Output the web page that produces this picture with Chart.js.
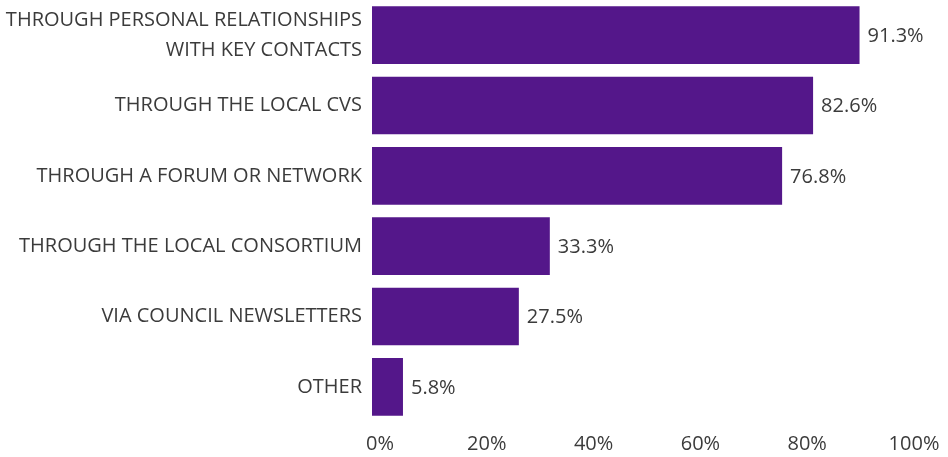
<!DOCTYPE html>
<html>
<head>
<meta charset="utf-8">
<script src="https://cdn.jsdelivr.net/npm/chart.js@4/dist/chart.umd.min.js"></script>
<style>
  html, body { margin: 0; padding: 0; background: #ffffff; }
  #wrap { width: 948px; height: 457px; position: relative; }
</style>
</head>
<body>
<div id="wrap"><canvas id="chart"></canvas></div>
<script>
// How organisations hear about opportunities (% of respondents)
const categories = [
  ['THROUGH PERSONAL RELATIONSHIPS', 'WITH KEY CONTACTS'],
  'THROUGH THE LOCAL CVS',
  'THROUGH A FORUM OR NETWORK',
  'THROUGH THE LOCAL CONSORTIUM',
  'VIA COUNCIL NEWSLETTERS',
  'OTHER'
];
const shares = [91.3, 82.6, 76.8, 33.3, 27.5, 5.8];
const axisTicks = [0, 20, 40, 60, 80, 100];

const FONT = "'Open Sans', 'Noto Sans', sans-serif";
const TEXT = '#3b3b3b';
const PURPLE = '#54178a';

// Writes the percentage just past the end of each bar
const valueLabels = {
  id: 'valueLabels',
  afterDatasetsDraw(chart) {
    const ctx = chart.ctx;
    const meta = chart.getDatasetMeta(0);
    ctx.save();
    ctx.font = '20px ' + FONT;
    ctx.fillStyle = TEXT;
    ctx.textAlign = 'left';
    ctx.textBaseline = 'middle';
    meta.data.forEach((bar, i) => {
      ctx.fillText(shares[i].toFixed(1) + '%', bar.x + 8, bar.y + 1);
    });
    ctx.restore();
  }
};

new Chart(document.getElementById('chart'), {
  type: 'bar',
  data: {
    labels: categories,
    datasets: [{
      data: shares,
      backgroundColor: PURPLE,
      borderWidth: 0,
      categoryPercentage: 1,
      barPercentage: 0.82
    }]
  },
  options: {
    indexAxis: 'y',
    responsive: true,
    maintainAspectRatio: false,
    animation: false,
    layout: { padding: { top: -2, right: 42, left: 0, bottom: 0 } },
    plugins: {
      legend: { display: false },
      tooltip: { enabled: false }
    },
    scales: {
      x: {
        min: 0,
        max: 100,
        afterBuildTicks(scale) {
          scale.ticks = axisTicks.map(v => ({ value: v }));
        },
        afterFit(scale) {
          scale.height = 35;
          scale.paddingLeft = 0;
          scale.paddingRight = 0;
        },
        grid: { display: false, drawTicks: false },
        border: { display: false },
        ticks: {
          color: TEXT,
          font: { family: FONT, size: 20 },
          padding: 10,
          labelOffset: 8,
          maxRotation: 0,
          callback: v => v + '%'
        }
      },
      y: {
        afterFit(scale) {
          scale.width = 372;
          scale.paddingTop = 0;
          scale.paddingBottom = 0;
        },
        grid: { display: false, drawTicks: false },
        border: { display: false },
        ticks: {
          color: TEXT,
          font: { family: FONT, size: 20, lineHeight: 1.5 },
          padding: 10,
          autoSkip: false
        }
      }
    }
  },
  plugins: [valueLabels]
});
</script>
</body>
</html>
